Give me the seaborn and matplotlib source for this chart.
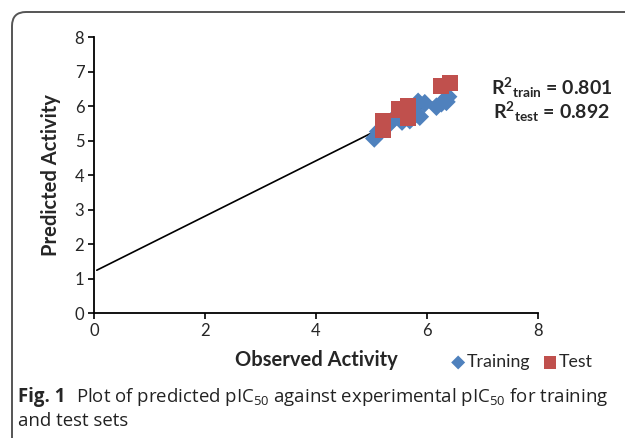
import matplotlib
matplotlib.use("Agg")
import matplotlib.pyplot as plt
from matplotlib.patches import FancyBboxPatch
from matplotlib.transforms import IdentityTransform
import seaborn as sns
import pandas as pd

# ---- data ----
train_x = [5.05, 5.12, 5.30, 5.39, 5.55, 5.69, 5.80, 5.84, 5.87, 5.96, 6.17, 6.26, 6.35, 6.38]
train_y = [5.06, 5.26, 5.45, 5.62, 5.55, 5.59, 5.80, 6.12, 5.69, 6.08, 5.98, 6.08, 6.12, 6.27]
test_x = [5.20, 5.21, 5.50, 5.65, 5.65, 6.25, 6.41]
test_y = [5.57, 5.32, 5.90, 6.00, 5.65, 6.58, 6.66]
trend_x = [0.05, 6.45]
trend_y = [1.24, 6.38]
x_ticks = [0, 2, 4, 6, 8]
y_ticks = [0, 1, 2, 3, 4, 5, 6, 7, 8]
r2_train = "0.801"
r2_test = "0.892"

train_df = pd.DataFrame({"Observed": train_x, "Predicted": train_y})
test_df = pd.DataFrame({"Observed": test_x, "Predicted": test_y})

sns.set_style("ticks")
plt.rcParams["font.family"] = ["Lato", "DejaVu Sans"]
plt.rcParams["mathtext.fontset"] = "custom"
plt.rcParams["mathtext.rm"] = "Open Sans"
plt.rcParams["mathtext.bf"] = "Lato:bold"

fig = plt.figure(figsize=(6.25, 4.38), dpi=100)
ax = fig.add_axes([94 / 625, 1 - 313 / 438, (538 - 94) / 625, (313 - 37) / 438])

blue = "#4F81BD"
red = "#C0504D"

sns.lineplot(x=trend_x, y=trend_y, ax=ax, color="black", lw=1.2, zorder=2)
sns.scatterplot(data=train_df, x="Observed", y="Predicted", marker="D", s=90,
                color=blue, edgecolor="none", ax=ax, label="Training", zorder=3)
sns.scatterplot(data=test_df, x="Observed", y="Predicted", marker="s", s=135,
                color=red, edgecolor="none", ax=ax, label="Test", zorder=4)

ax.set_xlim(0, 8)
ax.set_ylim(0, 8)
ax.set_xticks(x_ticks)
ax.set_yticks(y_ticks)
ax.tick_params(labelsize=12, length=4, width=1.2, color="black", pad=3)
for s in ["top", "right"]:
    ax.spines[s].set_visible(False)
for s in ["left", "bottom"]:
    ax.spines[s].set_linewidth(1.3)
    ax.spines[s].set_color("black")

ax.set_xlabel("Observed Activity", fontsize=14.5, fontweight="bold")
ax.set_ylabel("Predicted Activity", fontsize=14.5, fontweight="bold", labelpad=10)
ax.xaxis.set_label_coords(0.5, -0.135)

ax.legend(loc="center", bbox_to_anchor=(0.962, -0.178), ncol=2, frameon=False,
          fontsize=12.8, handletextpad=0.0, columnspacing=0.6, borderaxespad=0,
          handlelength=1.0, markerscale=0.75)

ax.text(1.03, 0.815, r"$\mathbf{R^2{}_{train}}$ = " + r2_train, transform=ax.transAxes,
        ha="center", va="center", fontsize=14, fontweight="bold")
ax.text(1.03, 0.728, r"$\mathbf{R^2{}_{test}}$ = " + r2_test, transform=ax.transAxes,
        ha="center", va="center", fontsize=14, fontweight="bold")

# caption
fig.text(18 / 625, 1 - 397 / 438, "Fig. 1", fontsize=13.4, fontweight="bold",
         family="Open Sans", va="center", ha="left")
fig.text(76 / 625, 1 - 397 / 438,
         r"Plot of predicted pIC$_{50}$ against experimental pIC$_{50}$ for training",
         fontsize=13.4, family="Open Sans", va="center", ha="left", color="#222222")
fig.text(18 / 625, 1 - 421 / 438, "and test sets", fontsize=13.4, family="Open Sans",
         va="center", ha="left", color="#222222")

# rounded frame
frame = FancyBboxPatch((12, -40), 700, 438 - 12 + 40,
                       boxstyle="round,pad=0,rounding_size=14",
                       transform=IdentityTransform(), fill=False,
                       edgecolor="#555555", lw=1.4, clip_on=False)
fig.patches.append(frame)

fig.savefig("out.png", dpi=100)
